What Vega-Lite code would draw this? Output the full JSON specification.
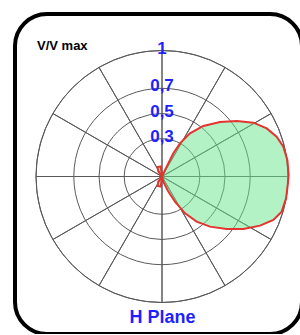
{
  "$schema": "https://vega.github.io/schema/vega-lite/v6.json",
  "width": 287,
  "height": 320,
  "padding": {"left": 15, "top": 14, "right": 0, "bottom": 0},
  "autosize": {"type": "none"},
  "background": "white",
  "config": {"view": {"stroke": "#000000", "strokeWidth": 4, "cornerRadius": 32}},
  "resolve": {"scale": {"radius": "independent"}},
  "datasets": {
    "rings": [{"r": 0.3}, {"r": 0.5}, {"r": 0.7}, {"r": 1}],
    "spokes": [
      {"sector": 1, "share": 1, "r": 1}, {"sector": 2, "share": 1, "r": 1}, {"sector": 3, "share": 1, "r": 1},
      {"sector": 4, "share": 1, "r": 1}, {"sector": 5, "share": 1, "r": 1}, {"sector": 6, "share": 1, "r": 1},
      {"sector": 7, "share": 1, "r": 1}, {"sector": 8, "share": 1, "r": 1}, {"sector": 9, "share": 1, "r": 1},
      {"sector": 10, "share": 1, "r": 1}, {"sector": 11, "share": 1, "r": 1}, {"sector": 12, "share": 1, "r": 1}
    ],
    "lobe": [
      {"i": 1, "x": 0, "y": 0},
      {"i": 2, "x": 0.037, "y": 0.078},
      {"i": 3, "x": 0.09, "y": 0.184},
      {"i": 4, "x": 0.143, "y": 0.263},
      {"i": 5, "x": 0.222, "y": 0.343},
      {"i": 6, "x": 0.328, "y": 0.401},
      {"i": 7, "x": 0.46, "y": 0.433},
      {"i": 8, "x": 0.593, "y": 0.44},
      {"i": 9, "x": 0.725, "y": 0.427},
      {"i": 10, "x": 0.831, "y": 0.382},
      {"i": 11, "x": 0.91, "y": 0.316},
      {"i": 12, "x": 0.963, "y": 0.237},
      {"i": 13, "x": 0.995, "y": 0.131},
      {"i": 14, "x": 1.005, "y": 0.012},
      {"i": 15, "x": 0.998, "y": -0.067},
      {"i": 16, "x": 0.985, "y": -0.173},
      {"i": 17, "x": 0.95, "y": -0.279},
      {"i": 18, "x": 0.884, "y": -0.345},
      {"i": 19, "x": 0.778, "y": -0.39},
      {"i": 20, "x": 0.646, "y": -0.417},
      {"i": 21, "x": 0.513, "y": -0.417},
      {"i": 22, "x": 0.381, "y": -0.398},
      {"i": 23, "x": 0.275, "y": -0.358},
      {"i": 24, "x": 0.183, "y": -0.292},
      {"i": 25, "x": 0.103, "y": -0.2},
      {"i": 26, "x": 0.05, "y": -0.12},
      {"i": 27, "x": 0.01, "y": -0.041},
      {"i": 28, "x": 0, "y": 0},
      {"i": 29, "x": -0.03, "y": -0.04},
      {"i": 30, "x": -0.035, "y": -0.075},
      {"i": 31, "x": -0.01, "y": -0.08},
      {"i": 32, "x": 0, "y": 0},
      {"i": 33, "x": -0.01, "y": 0.08},
      {"i": 34, "x": -0.035, "y": 0.075},
      {"i": 35, "x": -0.03, "y": 0.04}
    ],
    "labels": [
      {"text": "1", "x": 0, "y": 1},
      {"text": "0,7", "x": 0, "y": 0.7},
      {"text": "0,5", "x": 0, "y": 0.5},
      {"text": "0,3", "x": 0, "y": 0.3}
    ],
    "unit": [{"text": "V/V  max", "x": -0.992, "y": 1.004}],
    "plane": [{"text": "H Plane", "x": 0.004, "y": -1.163}]
  },
  "layer": [
    {
      "data": {"name": "rings"},
      "mark": {"type": "arc", "filled": false, "stroke": "#5a5a5a", "strokeWidth": 1, "theta": 0, "theta2": 6.2832},
      "encoding": {
        "x": {"datum": 0, "type": "quantitative", "scale": {"domain": [-1.1667, 1.1111], "nice": false, "zero": false}, "axis": null},
        "y": {"datum": 0, "type": "quantitative", "scale": {"domain": [-1.25, 1.2897], "nice": false, "zero": false}, "axis": null},
        "radius": {"field": "r", "type": "quantitative", "stack": null, "scale": {"type": "linear", "domain": [0, 1], "range": [0, 126], "zero": true, "nice": false}}
      }
    },
    {
      "data": {"name": "spokes"},
      "mark": {"type": "arc", "filled": false, "stroke": "#5a5a5a", "strokeWidth": 1},
      "encoding": {
        "x": {"datum": 0, "type": "quantitative", "scale": {"domain": [-1.1667, 1.1111], "nice": false, "zero": false}, "axis": null},
        "y": {"datum": 0, "type": "quantitative", "scale": {"domain": [-1.25, 1.2897], "nice": false, "zero": false}, "axis": null},
        "theta": {"field": "share", "type": "quantitative", "stack": true},
        "radius": {"field": "r", "type": "quantitative", "scale": {"type": "linear", "domain": [0, 1], "range": [0, 126], "zero": true, "nice": false}}
      }
    },
    {
      "data": {"name": "lobe"},
      "mark": {"type": "line", "interpolate": "linear-closed", "fill": "#66e68a", "fillOpacity": 0.5, "stroke": "#e3342f", "strokeWidth": 2},
      "encoding": {
        "x": {"field": "x", "type": "quantitative", "scale": {"domain": [-1.1667, 1.1111], "nice": false, "zero": false}, "axis": null},
        "y": {"field": "y", "type": "quantitative", "scale": {"domain": [-1.25, 1.2897], "nice": false, "zero": false}, "axis": null},
        "order": {"field": "i", "type": "quantitative"}
      }
    },
    {
      "data": {"name": "labels"},
      "mark": {"type": "text", "font": "Liberation Sans", "fontWeight": "bold", "fontSize": 17, "color": "#1f1fff", "align": "center", "baseline": "middle", "dy": -2},
      "encoding": {
        "x": {"field": "x", "type": "quantitative", "scale": {"domain": [-1.1667, 1.1111], "nice": false, "zero": false}, "axis": null},
        "y": {"field": "y", "type": "quantitative", "scale": {"domain": [-1.25, 1.2897], "nice": false, "zero": false}, "axis": null},
        "text": {"field": "text"}
      }
    },
    {
      "data": {"name": "unit"},
      "mark": {"type": "text", "font": "Liberation Sans", "fontWeight": "bold", "fontSize": 13, "color": "#000000", "align": "left", "baseline": "alphabetic"},
      "encoding": {
        "x": {"field": "x", "type": "quantitative", "scale": {"domain": [-1.1667, 1.1111], "nice": false, "zero": false}, "axis": null},
        "y": {"field": "y", "type": "quantitative", "scale": {"domain": [-1.25, 1.2897], "nice": false, "zero": false}, "axis": null},
        "text": {"field": "text"}
      }
    },
    {
      "data": {"name": "plane"},
      "mark": {"type": "text", "font": "Liberation Sans", "fontWeight": "bold", "fontSize": 18, "color": "#1f1fff", "align": "center", "baseline": "alphabetic"},
      "encoding": {
        "x": {"field": "x", "type": "quantitative", "scale": {"domain": [-1.1667, 1.1111], "nice": false, "zero": false}, "axis": null},
        "y": {"field": "y", "type": "quantitative", "scale": {"domain": [-1.25, 1.2897], "nice": false, "zero": false}, "axis": null},
        "text": {"field": "text"}
      }
    }
  ]
}
